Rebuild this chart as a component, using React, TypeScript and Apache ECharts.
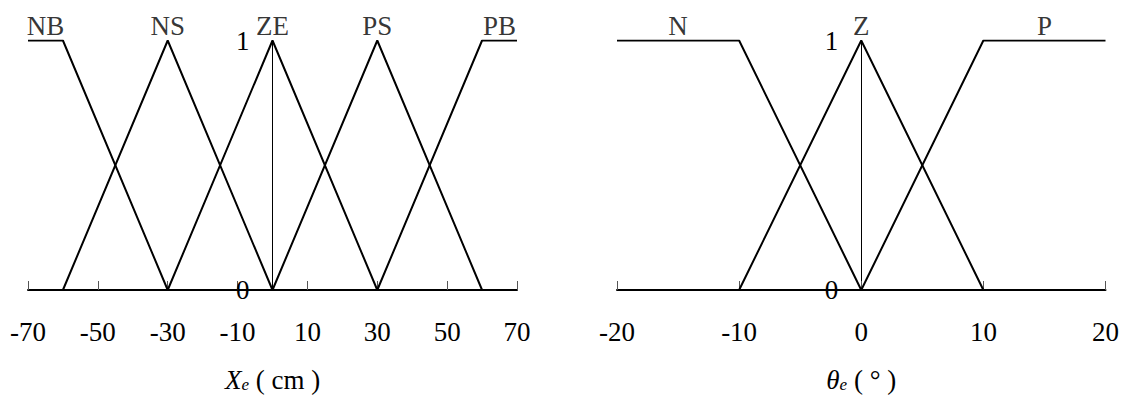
import React, { useEffect, useRef } from "react";
import * as echarts from "echarts";

const FONT = "Liberation Serif, serif";

// Position error X_e (cm): five fuzzy sets
const xeRange = [-70, 70];
const xeTicks = [-70, -50, -30, -10, 10, 30, 50, 70];
const xeNames = ["NB", "NS", "ZE", "PS", "PB"];
const xeNameAt = [-65, -30, 0, 30, 65];
const NB = [[-70, 1], [-60, 1], [-30, 0]];
const NS = [[-60, 0], [-30, 1], [0, 0]];
const ZE = [[-30, 0], [0, 1], [30, 0]];
const PS = [[0, 0], [30, 1], [60, 0]];
const PB = [[30, 0], [60, 1], [70, 1]];

// Angle error θ_e (°): three fuzzy sets
const thRange = [-20, 20];
const thTicks = [-20, -10, 0, 10, 20];
const thNames = ["N", "Z", "P"];
const thNameAt = [-15, 0, 15];
const N = [[-20, 1], [-10, 1], [0, 0]];
const Z = [[-10, 0], [0, 1], [10, 0]];
const P = [[0, 0], [10, 1], [20, 1]];

const yTicks = [0, 1];

const FS = 27;
const GRIDS = [
  { left: 28, top: 40.5, width: 489, height: 249.5 },
  { left: 617, top: 40.5, width: 488.5, height: 249.5 },
];

function xAxisOf(grid: number, range: number[], ticks: number[], name: string) {
  return {
    gridIndex: grid,
    type: "value",
    min: range[0],
    max: range[1],
    axisLine: { onZero: false, lineStyle: { color: "#000", width: 2 } },
    axisTick: {
      inside: true,
      length: 9,
      customValues: ticks,
      lineStyle: { color: "#555", width: 1 },
    },
    axisLabel: {
      customValues: ticks,
      fontSize: FS,
      color: "#000",
      fontFamily: FONT,
      margin: 28,
    },
    splitLine: { show: false },
    name,
    nameLocation: "middle",
    nameGap: 76,
    nameTextStyle: {
      fontFamily: FONT,
      color: "#000",
      fontSize: FS,
      rich: {
        i: { fontFamily: FONT, fontStyle: "italic", fontSize: FS, color: "#000" },
        s: {
          fontFamily: FONT,
          fontStyle: "italic",
          fontSize: 17,
          color: "#000",
          verticalAlign: "bottom",
        },
        n: { fontFamily: FONT, fontSize: FS, color: "#000" },
      },
    },
  };
}

// vertical axis drawn through x = 0 of its grid
function yAxisOf(grid: number, range: number[]) {
  const w = GRIDS[grid].width;
  const zeroOffset = (w * (0 - range[0])) / (range[1] - range[0]);
  return {
    gridIndex: grid,
    type: "value",
    min: 0,
    max: 1,
    position: "left",
    offset: -zeroOffset,
    axisLine: { show: true, onZero: false, lineStyle: { color: "#000", width: 1 } },
    axisTick: { show: false },
    axisLabel: {
      customValues: yTicks,
      fontSize: FS,
      color: "#000",
      fontFamily: FONT,
      margin: 23,
    },
    splitLine: { show: false },
  };
}

function lineOf(grid: number, data: number[][]) {
  return {
    type: "line",
    xAxisIndex: grid,
    yAxisIndex: grid,
    data,
    symbol: "none",
    lineStyle: { color: "#000", width: 2 },
    z: 3,
  };
}

function namesOf(grid: number, names: string[], at: number[]) {
  return {
    type: "scatter",
    xAxisIndex: grid,
    yAxisIndex: grid,
    symbolSize: 0,
    data: names.map((n, i) => ({ name: n, value: [at[i], 1] })),
    label: {
      show: true,
      position: "top",
      distance: 1,
      formatter: "{b}",
      fontFamily: FONT,
      fontSize: FS,
      color: "#000",
    },
    z: 4,
  };
}

export default function App() {
  const ref = useRef<HTMLDivElement>(null);

  useEffect(() => {
    if (!ref.current) return;
    const chart = echarts.init(ref.current, null, { renderer: "svg" });
    chart.setOption({
      animation: false,
      textStyle: { fontFamily: FONT },
      grid: GRIDS,
      xAxis: [
        xAxisOf(0, xeRange, xeTicks, "{i|X}{s|e}{n| ( cm )}"),
        xAxisOf(1, thRange, thTicks, "{i|θ}{s|e}{n| ( ° )}"),
      ],
      yAxis: [yAxisOf(0, xeRange), yAxisOf(1, thRange)],
      series: [
        lineOf(0, NB),
        lineOf(0, NS),
        lineOf(0, ZE),
        lineOf(0, PS),
        lineOf(0, PB),
        namesOf(0, xeNames, xeNameAt),
        lineOf(1, N),
        lineOf(1, Z),
        lineOf(1, P),
        namesOf(1, thNames, thNameAt),
      ],
    });
    return () => chart.dispose();
  }, []);

  return (
    <div
      ref={ref}
      style={{ position: "absolute", left: 0, top: 0, width: 1128, height: 404, background: "#fff" }}
    />
  );
}
